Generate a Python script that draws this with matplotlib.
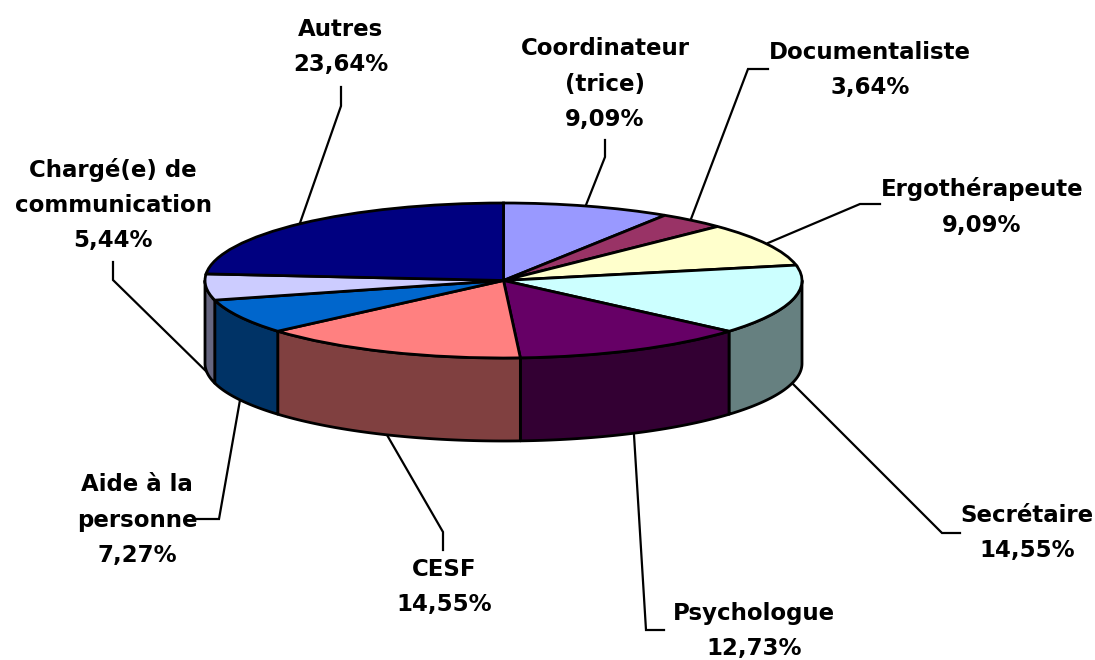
import matplotlib
matplotlib.use("Agg")
import matplotlib.pyplot as plt
from matplotlib.patches import Wedge, Polygon
from matplotlib.transforms import Affine2D
import numpy as np

# data, clockwise from the top of the pie
categories = ["Coordinateur\n(trice)", "Documentaliste", "Ergothérapeute", "Secrétaire",
              "Psychologue", "CESF", "Aide à la\npersonne", "Chargé(e) de\ncommunication", "Autres"]
values = [9.09, 3.64, 9.09, 14.55, 12.73, 14.55, 7.27, 5.44, 23.64]
top_colors = ["#9999FF", "#993366", "#FFFFCC", "#CCFFFF", "#660066",
              "#FF8080", "#0066CC", "#CCCCFF", "#000080"]
side_colors = ["#4D4D80", "#4D1A33", "#808066", "#668080", "#330033",
               "#804040", "#003366", "#666680", "#000040"]

# layout in pixels
cx, cy = 503.5, 280.5
rx, ry = 298.5, 77.5
depth = 83
lw = 2.0
label_pos = [(605, 84), (870, 70), (982, 207), (1027, 533), (754, 631),
             (444, 587), (137, 520), (113, 205), (341, 47)]
leaders = [[(605, 140), (605, 157), (586, 205)],
           [(768, 69), (748, 69), (691, 219)],
           [(880, 204), (860, 204), (768, 243)],
           [(960, 533), (942, 533), (793, 384)],
           [(664, 630), (646, 630), (634, 435)],
           [(443, 550), (443, 532), (387, 435)],
           [(197, 519), (219, 519), (240, 400)],
           [(113, 262), (113, 280), (215, 380)],
           [(341, 87), (341, 106), (300, 223)]]

fig = plt.figure(figsize=(10.95, 6.6), dpi=100)
ax = fig.add_axes([0, 0, 1, 1])
ax.set_xlim(0, 1095)
ax.set_ylim(660, 0)
ax.axis("off")

edges = np.cumsum([0] + values) / np.sum(values) * 360

# leader lines go under the pie
for pts in leaders:
    ax.plot(*zip(*pts), color="black", lw=1.6, zorder=1, solid_joinstyle="miter")

# visible rim, only the front half of the ellipse
for i in range(len(values)):
    t0, t1 = max(edges[i], 90), min(edges[i + 1], 270)
    if t1 <= t0:
        continue
    t = np.radians(np.linspace(t0, t1, 80))
    x = cx + rx * np.sin(t)
    y = cy - ry * np.cos(t)
    pts = np.vstack([np.column_stack([x, y]), np.column_stack([x, y + depth])[::-1]])
    ax.add_patch(Polygon(pts, closed=True, facecolor=side_colors[i], edgecolor="black",
                         lw=lw, zorder=2, joinstyle="round"))

# top face, unit wedges squashed into the ellipse
squash = Affine2D().scale(rx, -ry).translate(cx, cy) + ax.transData
for i in range(len(values)):
    ax.add_patch(Wedge((0, 0), 1, 90 - edges[i + 1], 90 - edges[i], facecolor=top_colors[i],
                       edgecolor="black", lw=lw, transform=squash, zorder=3))

for name, val, (lx, ly) in zip(categories, values, label_pos):
    txt = name + "\n" + ("%.2f%%" % val).replace(".", ",")
    ax.text(lx, ly, txt, ha="center", va="center", family="DejaVu Sans", weight="bold",
            fontsize=16.5, linespacing=1.68, color="black", zorder=4)

fig.savefig("out.png", dpi=100)
